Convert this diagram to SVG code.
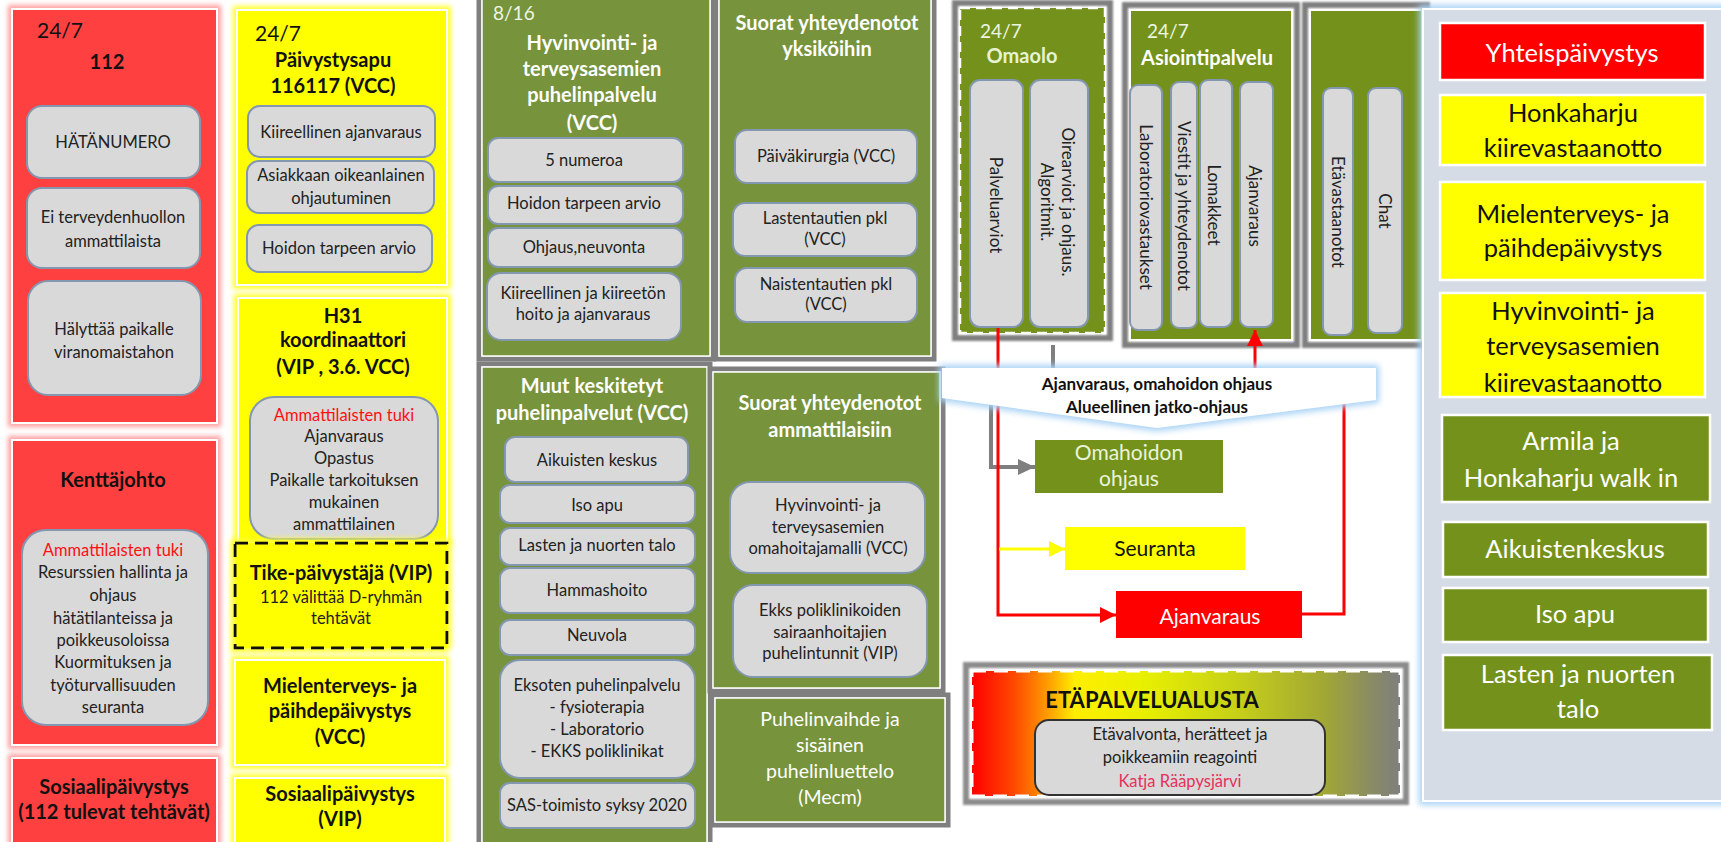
<svg xmlns="http://www.w3.org/2000/svg" width="1721" height="842" viewBox="0 0 1721 842">
<defs>
<style>
text{font-family:Lato,'Liberation Sans',sans-serif}
.c{text-anchor:middle}
.s{font-size:16.5px;fill:#222}
.hb{font-size:20px;font-weight:700;fill:#111}
.hw{font-size:20px;font-weight:700;fill:#fff}
.big{font-size:25.5px;fill:#111}
.bigw{font-size:25.5px;fill:#fff}
.r{fill:#ff1010}
.gb{fill:#d9d9d9;stroke:#8497b0;stroke-width:2}
.redbox{fill:#ff4040;stroke:#fff;stroke-width:2}
.ybox{fill:#ffff00;stroke:#fff;stroke-width:2}
.gframe{fill:none;stroke:#7f7f7f;stroke-width:5}
.gl{fill:#77933c;stroke:#fff;stroke-width:1.5}
.gr{fill:#74921b;stroke:#fff;stroke-width:2}
.vt{font-size:17px;fill:#222}
.t24{font-size:20px;fill:#111}
.rbox{stroke:#fff;stroke-width:2.5}
</style>
<filter id="glowR" x="-10%" y="-10%" width="120%" height="120%">
<feMorphology in="SourceAlpha" operator="dilate" radius="3" result="d"/>
<feGaussianBlur in="d" stdDeviation="2.5" result="b"/>
<feFlood flood-color="#ffa0a0"/>
<feComposite in2="b" operator="in"/>
<feMerge><feMergeNode/><feMergeNode in="SourceGraphic"/></feMerge>
</filter>
<filter id="glowY" x="-10%" y="-10%" width="120%" height="120%">
<feMorphology in="SourceAlpha" operator="dilate" radius="3" result="d"/>
<feGaussianBlur in="d" stdDeviation="2.5" result="b"/>
<feFlood flood-color="#ffff30"/>
<feComposite in2="b" operator="in"/>
<feMerge><feMergeNode/><feMergeNode in="SourceGraphic"/></feMerge>
</filter>
<filter id="glowB" x="-10%" y="-30%" width="120%" height="160%">
<feMorphology in="SourceAlpha" operator="dilate" radius="3" result="d"/>
<feGaussianBlur in="d" stdDeviation="3" result="b"/>
<feFlood flood-color="#a9d2f5"/>
<feComposite in2="b" operator="in"/>
<feMerge><feMergeNode/><feMergeNode in="SourceGraphic"/></feMerge>
</filter>
<filter id="blur1"><feGaussianBlur stdDeviation="1.2"/></filter>
<linearGradient id="etaGrad" x1="0" y1="0" x2="1" y2="0">
<stop offset="0" stop-color="#ff0000"/>
<stop offset="0.1" stop-color="#ff4a00"/>
<stop offset="0.18" stop-color="#ffa000"/>
<stop offset="0.24" stop-color="#ffee00"/>
<stop offset="0.4" stop-color="#e8f000"/>
<stop offset="0.62" stop-color="#c6d018"/>
<stop offset="0.82" stop-color="#a2a834"/>
<stop offset="0.94" stop-color="#888a66"/>
<stop offset="1" stop-color="#7f7f7f"/>
</linearGradient>
<marker id="aR" markerUnits="userSpaceOnUse" markerWidth="16" markerHeight="16" refX="16" refY="8" orient="auto"><path d="M0,0 L16,8 L0,16 z" fill="#ff0000"/></marker>
<marker id="aG" markerUnits="userSpaceOnUse" markerWidth="17" markerHeight="16" refX="17" refY="8" orient="auto"><path d="M0,0 L17,8 L0,16 z" fill="#7f7f7f"/></marker>
<marker id="aY" markerUnits="userSpaceOnUse" markerWidth="16" markerHeight="16" refX="16" refY="8" orient="auto"><path d="M0,0 L16,8 L0,16 z" fill="#ffff00"/></marker>
</defs>
<rect x="0" y="0" width="1721" height="842" fill="#fff"/>

<!-- Column 1 (red) -->
<g id="n112">
<rect class="redbox" x="12" y="9" width="205" height="414" filter="url(#glowR)"/>
<text class="t24" x="37" y="38" style="font-size:21px">24/7</text>
<text class="hb c" x="107" y="69">112</text>
<rect class="gb" x="27" y="106" width="173" height="72" rx="15"/>
<text class="s c" x="113" y="148">HÄTÄNUMERO</text>
<rect class="gb" x="27" y="188" width="173" height="80" rx="15"/>
<text class="s c" x="113" y="223">Ei terveydenhuollon</text>
<text class="s c" x="113" y="247">ammattilaista</text>
<rect class="gb" x="28" y="281" width="173" height="114" rx="20"/>
<text class="s c" x="114" y="335">Hälyttää paikalle</text>
<text class="s c" x="114" y="358">viranomaistahon</text>
</g>
<g id="kenttajohto">
<rect class="redbox" x="12" y="440" width="205" height="305" filter="url(#glowR)"/>
<text class="hb c" x="113" y="487">Kenttäjohto</text>
<rect class="gb" x="22" y="530" width="186" height="195" rx="24"/>
<text class="s c r" x="113" y="556">Ammattilaisten tuki</text>
<text class="s c" x="113" y="578">Resurssien hallinta ja</text>
<text class="s c" x="113" y="601">ohjaus</text>
<text class="s c" x="113" y="624">hätätilanteissa ja</text>
<text class="s c" x="113" y="646">poikkeusoloissa</text>
<text class="s c" x="113" y="668">Kuormituksen ja</text>
<text class="s c" x="113" y="691">työturvallisuuden</text>
<text class="s c" x="113" y="713">seuranta</text>
</g>
<g id="sosiaali112">
<rect class="redbox" x="12" y="758" width="205" height="100" filter="url(#glowR)"/>
<text class="hb c" x="114" y="794">Sosiaalipäivystys</text>
<text class="hb c" x="114" y="819">(112 tulevat tehtävät)</text>
</g>

<!-- Column 2 (yellow) -->
<g id="paivystysapu">
<rect class="ybox" x="237" y="10" width="210" height="275" filter="url(#glowY)"/>
<text class="t24" x="255" y="41" style="font-size:21px">24/7</text>
<text class="hb c" x="333" y="67">Päivystysapu</text>
<text class="hb c" x="333" y="93">116117 (VCC)</text>
<rect class="gb" x="248" y="106" width="187" height="51" rx="12"/>
<text class="s c" x="341" y="138">Kiireellinen ajanvaraus</text>
<rect class="gb" x="247" y="161" width="187" height="52" rx="12"/>
<text class="s c" x="341" y="181">Asiakkaan oikeanlainen</text>
<text class="s c" x="341" y="204">ohjautuminen</text>
<rect class="gb" x="247" y="225" width="185" height="47" rx="12"/>
<text class="s c" x="339" y="254">Hoidon tarpeen arvio</text>
</g>
<g id="h31">
<rect class="ybox" x="238" y="298" width="209" height="245" filter="url(#glowY)"/>
<text class="hb c" x="343" y="323">H31</text>
<text class="hb c" x="343" y="347">koordinaattori</text>
<text class="hb c" x="343" y="374">(VIP , 3.6. VCC)</text>
<rect class="gb" x="250" y="397" width="188" height="142" rx="24"/>
<text class="s c r" x="344" y="421">Ammattilaisten tuki</text>
<text class="s c" x="344" y="442">Ajanvaraus</text>
<text class="s c" x="344" y="464">Opastus</text>
<text class="s c" x="344" y="486">Paikalle tarkoituksen</text>
<text class="s c" x="344" y="508">mukainen</text>
<text class="s c" x="344" y="530">ammattilainen</text>
</g>
<g id="tike">
<rect x="235" y="543" width="212" height="105" fill="#ffff00" stroke="#111" stroke-width="3" stroke-dasharray="13,7" filter="url(#glowY)"/>
<text class="hb c" x="341" y="580">Tike-päivystäjä (VIP)</text>
<text class="s c" x="341" y="603">112 välittää D-ryhmän</text>
<text class="s c" x="341" y="624">tehtävät</text>
</g>
<g id="mielenterveys-vcc">
<rect class="ybox" x="235" y="660" width="210" height="105" filter="url(#glowY)"/>
<text class="hb c" x="340" y="693">Mielenterveys- ja</text>
<text class="hb c" x="340" y="718">päihdepäivystys</text>
<text class="hb c" x="340" y="744">(VCC)</text>
</g>
<g id="sosiaali-vip">
<rect class="ybox" x="235" y="778" width="210" height="80" filter="url(#glowY)"/>
<text class="hb c" x="340" y="801">Sosiaalipäivystys</text>
<text class="hb c" x="340" y="826">(VIP)</text>
</g>

<!-- Column 3 (green) -->
<g id="hyvinvointi-puhelin">
<rect class="gframe" x="479" y="-10" width="234" height="369"/>
<rect class="gl" x="482" y="-10" width="228" height="366"/>
<text x="493" y="20" style="font-size:19px;fill:#eef5e4">8/16</text>
<text class="hw c" x="592" y="50">Hyvinvointi- ja</text>
<text class="hw c" x="592" y="76">terveysasemien</text>
<text class="hw c" x="592" y="102">puhelinpalvelu</text>
<text class="hw c" x="592" y="130">(VCC)</text>
<rect class="gb" x="488" y="138" width="195" height="44" rx="10"/>
<text class="s c" x="584" y="166">5 numeroa</text>
<rect class="gb" x="488" y="186" width="195" height="38" rx="10"/>
<text class="s c" x="584" y="209">Hoidon tarpeen arvio</text>
<rect class="gb" x="488" y="228" width="195" height="39" rx="10"/>
<text class="s c" x="584" y="253">Ohjaus,neuvonta</text>
<rect class="gb" x="487" y="273" width="194" height="67" rx="14"/>
<text class="s c" x="583" y="299">Kiireellinen ja kiireetön</text>
<text class="s c" x="583" y="320">hoito ja ajanvaraus</text>
</g>
<g id="muut-keskitetyt">
<rect class="gframe" x="479" y="364" width="231" height="490"/>
<rect class="gl" x="482" y="367" width="225" height="485"/>
<text class="hw c" x="592" y="393">Muut keskitetyt</text>
<text class="hw c" x="592" y="420">puhelinpalvelut (VCC)</text>
<rect class="gb" x="505" y="437" width="183" height="45" rx="10"/>
<text class="s c" x="597" y="466">Aikuisten keskus</text>
<rect class="gb" x="500" y="485" width="195" height="38" rx="10"/>
<text class="s c" x="597" y="511">Iso apu</text>
<rect class="gb" x="500" y="528" width="195" height="37" rx="10"/>
<text class="s c" x="597" y="551">Lasten ja nuorten talo</text>
<rect class="gb" x="500" y="568" width="195" height="45" rx="10"/>
<text class="s c" x="597" y="596">Hammashoito</text>
<rect class="gb" x="500" y="620" width="195" height="35" rx="10"/>
<text class="s c" x="597" y="641">Neuvola</text>
<rect class="gb" x="500" y="660" width="195" height="118" rx="20"/>
<text class="s c" x="597" y="691">Eksoten puhelinpalvelu</text>
<text class="s c" x="597" y="713">- fysioterapia</text>
<text class="s c" x="597" y="735">- Laboratorio</text>
<text class="s c" x="597" y="757">- EKKS poliklinikat</text>
<rect class="gb" x="500" y="783" width="195" height="45" rx="10"/>
<text class="s c" x="597" y="811">SAS-toimisto syksy 2020</text>
</g>

<!-- Column 4 (green) -->
<g id="suorat-yksikot">
<rect class="gframe" x="716" y="-10" width="218" height="369"/>
<rect class="gl" x="719" y="-10" width="212" height="366"/>
<text class="hw c" x="827" y="30">Suorat yhteydenotot</text>
<text class="hw c" x="827" y="56">yksiköihin</text>
<rect class="gb" x="735" y="130" width="182" height="53" rx="12"/>
<text class="s c" x="826" y="162">Päiväkirurgia (VCC)</text>
<rect class="gb" x="733" y="203" width="184" height="53" rx="12"/>
<text class="s c" x="825" y="224">Lastentautien pkl</text>
<text class="s c" x="825" y="245">(VCC)</text>
<rect class="gb" x="735" y="268" width="182" height="54" rx="12"/>
<text class="s c" x="826" y="290">Naistentautien pkl</text>
<text class="s c" x="826" y="310">(VCC)</text>
</g>
<g id="suorat-ammattilaiset">
<rect class="gframe" x="710" y="369" width="233" height="322"/>
<rect class="gl" x="713" y="372" width="227" height="316"/>
<text class="hw c" x="830" y="410">Suorat yhteydenotot</text>
<text class="hw c" x="830" y="437">ammattilaisiin</text>
<rect class="gb" x="730" y="482" width="195" height="91" rx="20"/>
<text class="s c" x="828" y="511">Hyvinvointi- ja</text>
<text class="s c" x="828" y="533">terveysasemien</text>
<text class="s c" x="828" y="554">omahoitajamalli (VCC)</text>
<rect class="gb" x="733" y="585" width="194" height="92" rx="20"/>
<text class="s c" x="830" y="616">Ekks poliklinikoiden</text>
<text class="s c" x="830" y="638">sairaanhoitajien</text>
<text class="s c" x="830" y="659">puhelintunnit (VIP)</text>
</g>
<g id="puhelinvaihde">
<rect class="gframe" x="712" y="695" width="236" height="130"/>
<rect class="gl" x="715" y="698" width="230" height="124"/>
<text class="c" x="830" y="726" style="font-size:19.5px;fill:#fff">Puhelinvaihde ja</text>
<text class="c" x="830" y="752" style="font-size:19.5px;fill:#fff">sisäinen</text>
<text class="c" x="830" y="778" style="font-size:19.5px;fill:#fff">puhelinluettelo</text>
<text class="c" x="830" y="804" style="font-size:19.5px;fill:#fff">(Mecm)</text>
</g>

<!-- Column 5: digital channels -->
<g id="omaolo">
<rect x="955" y="3" width="155" height="335" fill="none" stroke="#7f7f7f" stroke-width="6" filter="url(#blur1)"/>
<rect x="960" y="8" width="145" height="325" fill="#74921b" stroke="#fff" stroke-width="2.5" stroke-dasharray="10,6"/>
<text x="980" y="38" style="font-size:19px;fill:#eef5e4">24/7</text>
<text class="c" x="1022" y="63" style="font-size:20px;font-weight:700;fill:#e6f2d2">Omaolo</text>
<rect class="gb" x="970" y="80" width="53" height="247" rx="10"/>
<text class="vt c" transform="translate(996,205) rotate(90)" y="6">Palveluarviot</text>
<rect class="gb" x="1030" y="80" width="58" height="247" rx="10"/>
<text class="vt c" transform="translate(1058,202) rotate(90)"><tspan x="0" y="-4">Oirearviot ja ohjaus.</tspan><tspan x="0" y="17">Algoritmit.</tspan></text>
</g>
<g id="asiointipalvelu">
<rect x="1125" y="5" width="172" height="340" fill="none" stroke="#7f7f7f" stroke-width="6" filter="url(#blur1)"/>
<rect class="gr" x="1130" y="10" width="162" height="330"/>
<text x="1147" y="38" style="font-size:19px;fill:#eef5e4">24/7</text>
<text class="hw c" x="1207" y="65">Asiointipalvelu</text>
<rect class="gb" x="1130" y="85" width="32" height="245" rx="8"/>
<text class="vt c" transform="translate(1146,207) rotate(90)" y="6">Laboratoriovastaukset</text>
<rect class="gb" x="1171" y="82" width="26" height="246" rx="8"/>
<text class="vt c" transform="translate(1184,206) rotate(90)" y="6">Viestit ja yhteydenotot</text>
<rect class="gb" x="1200" y="80" width="32" height="247" rx="8"/>
<text class="vt c" transform="translate(1214,205) rotate(90)" y="6">Lomakkeet</text>
<rect class="gb" x="1240" y="82" width="33" height="245" rx="8"/>
<text class="vt c" transform="translate(1255,206) rotate(90)" y="6">Ajanvaraus</text>
</g>
<g id="etavastaanotto-chat">
<rect x="1305" y="5" width="122" height="340" fill="none" stroke="#7f7f7f" stroke-width="6" filter="url(#blur1)"/>
<rect class="gr" x="1310" y="10" width="112" height="330"/>
<rect class="gb" x="1323" y="88" width="30" height="247" rx="8"/>
<text class="vt c" transform="translate(1338,212) rotate(90)" y="6">Etävastaanotot</text>
<rect class="gb" x="1368" y="88" width="34" height="245" rx="8"/>
<text class="vt c" transform="translate(1385,211) rotate(90)" y="6">Chat</text>
</g>

<!-- Connectors -->
<g id="connectors" fill="none">
<path d="M1053,345 V390 H991 V467 H1035" stroke="#7f7f7f" stroke-width="4" marker-end="url(#aG)"/>
<path d="M998,328 V615 H1116" stroke="#ff0000" stroke-width="3" marker-end="url(#aR)"/>
<path d="M1302,614 H1344 V388 H1255 V330" stroke="#ff0000" stroke-width="3" marker-end="url(#aR)"/>
<path d="M999,549 H1065" stroke="#ffff00" stroke-width="3" marker-end="url(#aY)"/>
</g>

<g id="callout">
<polygon points="942,368 1376,368 1376,400 1157,428 942,398" fill="#fff" filter="url(#glowB)"/>
<text class="c" x="1157" y="390" style="font-size:17px;font-weight:700;fill:#111">Ajanvaraus, omahoidon ohjaus</text>
<text class="c" x="1157" y="413" style="font-size:17px;font-weight:700;fill:#111">Alueellinen jatko-ohjaus</text>
</g>

<g id="omahoidon-ohjaus">
<rect x="1035" y="440" width="188" height="53" fill="#74921b"/>
<text class="c" x="1129" y="460" style="font-size:21px;fill:#eaf4dc">Omahoidon</text>
<text class="c" x="1129" y="486" style="font-size:21px;fill:#eaf4dc">ohjaus</text>
</g>
<g id="seuranta">
<rect x="1065" y="527" width="180" height="43" fill="#ffff00"/>
<text class="c" x="1155" y="556" style="font-size:21px;fill:#111">Seuranta</text>
</g>
<g id="ajanvaraus">
<rect x="1116" y="591" width="186" height="47" fill="#ff0000"/>
<text class="c" x="1210" y="624" style="font-size:21px;fill:#fff">Ajanvaraus</text>
</g>

<g id="etapalvelualusta">
<rect x="966" y="665" width="440" height="137" fill="none" stroke="#8c8c8c" stroke-width="6" filter="url(#blur1)"/>
<rect x="972" y="671" width="428" height="125" fill="url(#etaGrad)" stroke="#fff" stroke-width="3" stroke-dasharray="14,8"/>
<text class="c" x="1152" y="708" style="font-size:22px;font-weight:700;fill:#111">ETÄPALVELUALUSTA</text>
<rect x="1035" y="720" width="290" height="75" rx="14" fill="#d9d9d9" stroke="#333" stroke-width="2"/>
<text class="s c" x="1180" y="740">Etävalvonta, herätteet ja</text>
<text class="s c" x="1180" y="763">poikkeamiin reagointi</text>
<text class="s c" x="1180" y="787" style="fill:#e8305a">Katja Rääpysjärvi</text>
</g>

<!-- Right column -->
<g id="oikea-paneeli">
<rect x="1423" y="9" width="310" height="792" fill="#d6dce6" stroke="#fff" stroke-width="2" filter="url(#glowB)"/>
</g>
<g id="yhteispaivystys">
<rect class="rbox" x="1440" y="23" width="265" height="57" fill="#ff0000"/>
<text class="bigw c" x="1572" y="62">Yhteispäivystys</text>
</g>
<g id="honkaharju-kiire">
<rect class="rbox" x="1440" y="95" width="265" height="70" fill="#ffff00"/>
<text class="big c" x="1573" y="122">Honkaharju</text>
<text class="big c" x="1573" y="157">kiirevastaanotto</text>
</g>
<g id="mielenterveys-paiv">
<rect class="rbox" x="1440" y="182" width="265" height="98" fill="#ffff00"/>
<text class="big c" x="1573" y="223">Mielenterveys- ja</text>
<text class="big c" x="1573" y="257">päihdepäivystys</text>
</g>
<g id="hyvinvointi-kiire">
<rect class="rbox" x="1440" y="293" width="265" height="104" fill="#ffff00"/>
<text class="big c" x="1573" y="320">Hyvinvointi- ja</text>
<text class="big c" x="1573" y="355">terveysasemien</text>
<text class="big c" x="1573" y="392">kiirevastaanotto</text>
</g>
<g id="armila-walkin">
<rect class="rbox" x="1442" y="415" width="268" height="87" fill="#74921b"/>
<text class="bigw c" x="1571" y="450">Armila ja</text>
<text class="bigw c" x="1571" y="487">Honkaharju walk in</text>
</g>
<g id="aikuistenkeskus">
<rect class="rbox" x="1443" y="522" width="265" height="55" fill="#74921b"/>
<text class="bigw c" x="1575" y="558">Aikuistenkeskus</text>
</g>
<g id="iso-apu">
<rect class="rbox" x="1443" y="588" width="265" height="54" fill="#74921b"/>
<text class="bigw c" x="1575" y="623">Iso apu</text>
</g>
<g id="lasten-nuorten-talo">
<rect class="rbox" x="1443" y="655" width="269" height="75" fill="#74921b"/>
<text class="bigw c" x="1578" y="683">Lasten ja nuorten</text>
<text class="bigw c" x="1578" y="718">talo</text>
</g>
</svg>
